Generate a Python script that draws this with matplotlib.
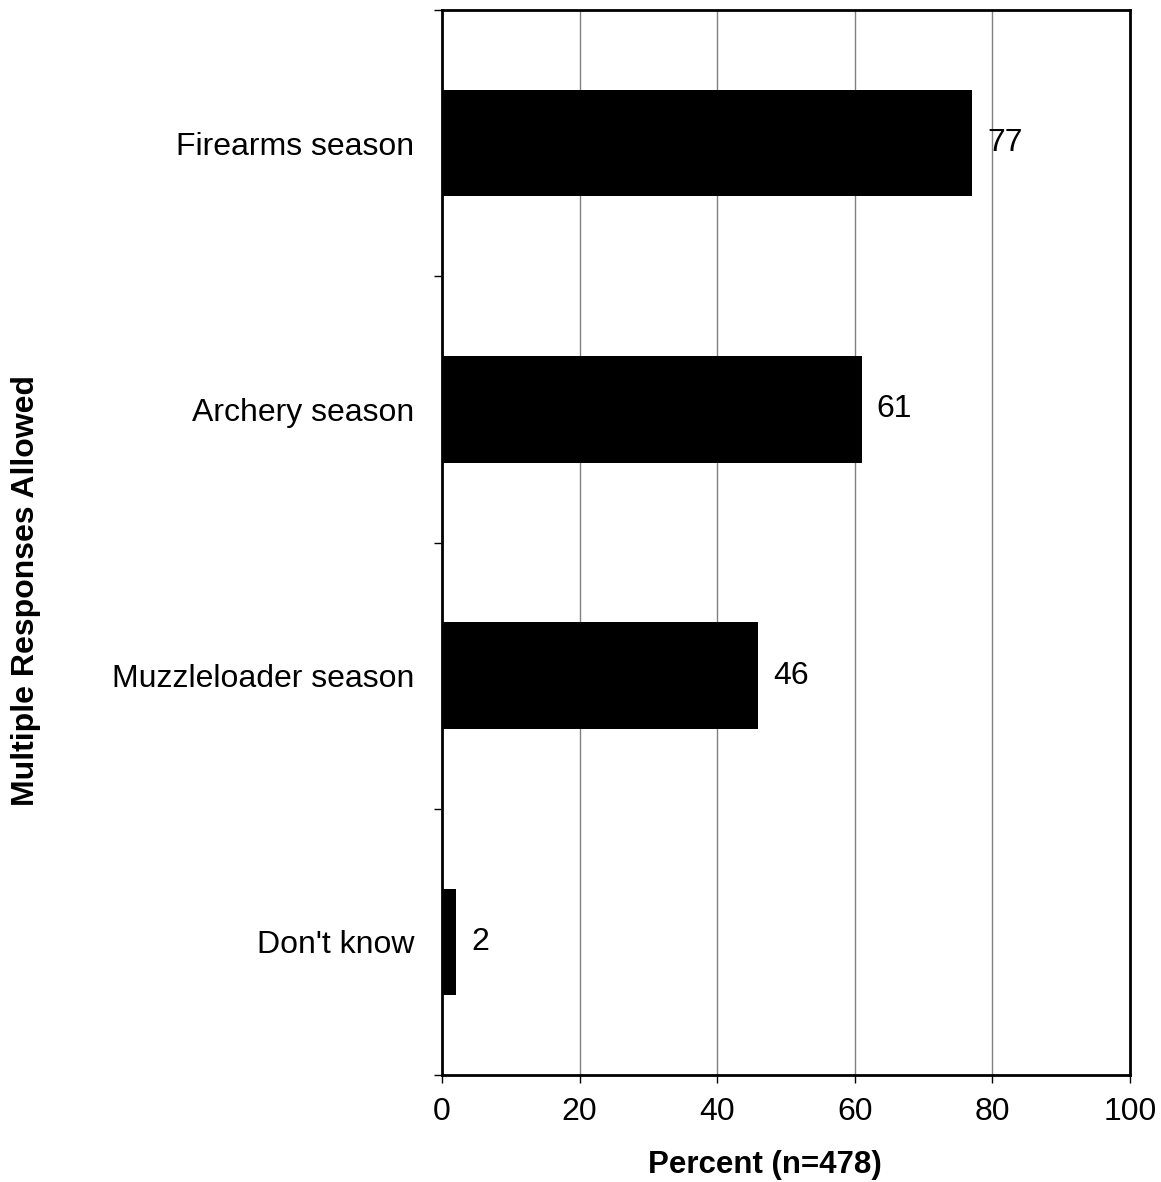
import numpy as np
import matplotlib.pyplot as plt

plt.rcParams['font.family'] = ['Liberation Sans', 'DejaVu Sans']

categories = ["Firearms season", "Archery season", "Muzzleloader season", "Don't know"]
percents = [77, 61, 46, 2]
xticks = [0, 20, 40, 60, 80, 100]

fig = plt.figure(figsize=(11.61, 11.82), dpi=100)
ax = fig.add_axes([0.3807, 0.0905, 0.5926, 0.901])

ypos = np.arange(len(categories))
ax.barh(ypos, percents, height=0.4, color="black", zorder=3)
for y, v in zip(ypos, percents):
    ax.text(v + 2.2, y, str(v), va="center", ha="left", fontsize=23)

ax.set_ylim(len(categories) - 0.5, -0.5)
ax.set_xlim(0, 100)
ax.set_xticks(xticks)
ax.set_xticklabels([str(t) for t in xticks], fontsize=23)
ax.set_yticks(ypos)
ax.set_yticklabels(categories, fontsize=23)
ax.tick_params(axis="y", which="major", length=0, pad=20)
ax.set_yticks(np.arange(-0.5, len(categories)), minor=True)
ax.tick_params(axis="y", which="minor", length=6, width=1, direction="out")
ax.tick_params(axis="x", length=6, width=1, direction="out", pad=10)
ax.grid(axis="x", color="#808080", linewidth=1, zorder=0)

for s in ax.spines.values():
    s.set_linewidth(2)

ax.set_xlabel("Percent (n=478)", fontsize=22.5, fontweight="bold")
ax.xaxis.set_label_coords(0.47, -0.07)
fig.text(0.022, 0.5, "Multiple Responses Allowed", rotation=90,
         fontsize=23, fontweight="bold", va="center", ha="center")

fig.savefig("out.png", dpi=100)
